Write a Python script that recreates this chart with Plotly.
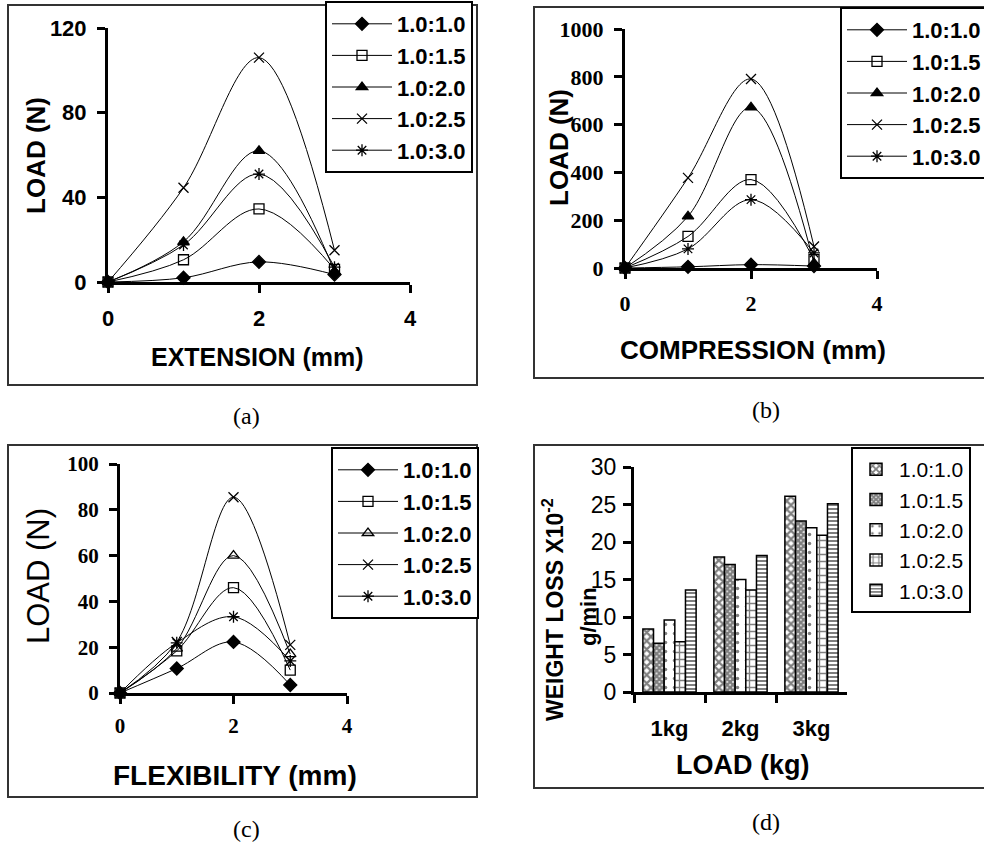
import plotly.graph_objects as go

W, H = 984, 846

ratios = ["1.0:1.0", "1.0:1.5", "1.0:2.0", "1.0:2.5", "1.0:3.0"]
x_mm = [0, 1, 2, 3]

# (a) extension loads (N) per ratio
ext_loads = [
    [0, 2, 9.5, 3.5],
    [0, 10.5, 34.5, 6],
    [0, 19, 62, 5],
    [0, 44.5, 106, 15],
    [0, 17.5, 51, 7],
]
# (b) compression loads (N)
comp_loads = [
    [0, 5, 14, 8],
    [0, 132, 370, 35],
    [0, 216, 672, 20],
    [0, 377, 791, 90],
    [0, 80, 286, 63],
]
# (c) flexibility loads (N)
flex_loads = [
    [0, 10.7, 22.3, 3.5],
    [0, 18.4, 46, 10],
    [0, 19.4, 60, 17],
    [0, 22.3, 85.5, 21],
    [0, 21.9, 33.3, 14],
]
# (d) weight loss x10^-2 g/min
load_cats = ["1kg", "2kg", "3kg"]
wear_loss = [
    [8.4, 18, 26.1],
    [6.5, 17, 22.8],
    [9.6, 15, 21.9],
    [6.7, 13.6, 20.9],
    [13.6, 18.2, 25.1],
]

sym_ab = ["diamond", "square-open", "triangle-up", "x-thin-open", "asterisk-open"]
sym_c = ["diamond", "square-open", "triangle-up-open", "x-thin-open", "asterisk-open"]
patterns = [
    dict(shape="x", size=6, solidity=0.6),
    dict(shape="x", size=4, solidity=0.85),
    dict(shape=".", size=9, solidity=0.12),
    dict(shape="+", size=7, solidity=0.35),
    dict(shape="-", size=4, solidity=0.5),
]

SANS = "Liberation Sans, Arial, sans-serif"
SERIF = "Liberation Serif, Times New Roman, serif"


def px(x0, x1):
    return [x0 / W, x1 / W]


def py(ytop, ybot):
    return [1 - ybot / H, 1 - ytop / H]


fig = go.Figure()


def add_lines(data, symbols, xa, ya, leg):
    for name, vals, sym in zip(ratios, data, symbols):
        fig.add_trace(go.Scatter(
            x=x_mm, y=vals, name=name, mode="lines+markers",
            line=dict(color="black", width=1, shape="spline"),
            marker=dict(symbol=sym, size=10, color="black",
                        line=dict(color="black", width=1.3)),
            xaxis=xa, yaxis=ya, legend=leg, cliponaxis=False,
        ))


add_lines(ext_loads, sym_ab, "x", "y", "legend")
add_lines(comp_loads, sym_ab, "x2", "y2", "legend2")
add_lines(flex_loads, sym_c, "x3", "y3", "legend3")

for name, vals, pat in zip(ratios, wear_loss, patterns):
    fig.add_trace(go.Bar(
        x=load_cats, y=vals, name=name,
        marker=dict(color="white", line=dict(color="black", width=1.5),
                    pattern=dict(fgcolor="black", bgcolor="white", fillmode="overlay", **pat)),
        xaxis="x4", yaxis="y4", legend="legend4",
    ))

axis_common = dict(showline=True, linecolor="black", linewidth=3, ticks="outside",
                   ticklen=8, tickwidth=3, tickcolor="black", showgrid=False,
                   zeroline=False, mirror=False)


def xax(dom, anchor, font, standoff, **kw):
    d = dict(axis_common)
    d.update(domain=dom, anchor=anchor, tickfont=font, ticklabelstandoff=standoff)
    d.update(kw)
    return d


fa = dict(family=SANS, size=22, color="black", weight="bold")
fb = dict(family=SERIF, size=22, color="black", weight="bold")
fc = dict(family=SERIF, size=21, color="black", weight="bold")
fd = dict(family=SANS, size=23, color="black")
fdx = dict(family=SANS, size=22, color="black", weight="bold")

fig.update_layout(
    width=W, height=H,
    margin=dict(l=0, r=0, t=0, b=0, autoexpand=False),
    paper_bgcolor="white", plot_bgcolor="white",
    showlegend=True,
    barmode="group", bargap=0.25, bargroupgap=0,
    xaxis=xax(px(108, 410), "y", fa, 7, range=[0, 4], dtick=2),
    yaxis=xax(py(28, 282), "x", fa, 6, range=[0, 120], dtick=40),
    xaxis2=xax(px(625, 877), "y2", fb, 6, range=[0, 4], dtick=2),
    yaxis2=xax(py(29, 268), "x2", fb, 6, range=[0, 1000], dtick=200),
    xaxis3=xax(px(120, 347), "y3", fc, 4, range=[0, 4], dtick=2),
    yaxis3=xax(py(464, 693), "x3", fc, 6, range=[0, 100], dtick=20),
    xaxis4=xax(px(634, 847), "y4", fdx, 15, type="category", range=[-0.5, 2.5],
               tickson="boundaries"),
    yaxis4=xax(py(467, 692), "x4", fd, 2, range=[0, 30], dtick=5),
)

leg_common = dict(bgcolor="white", bordercolor="black", borderwidth=2,
                  xanchor="left", yanchor="top", itemwidth=60, tracegroupgap=0,
                  itemclick=False)
fig.update_layout(
    legend=dict(leg_common, x=325 / W, y=1 - 1 / H,
                font=dict(family=SANS, size=22, color="black", weight="bold")),
    legend2=dict(leg_common, x=840 / W, y=1 - 7 / H,
                 font=dict(family=SANS, size=22, color="black", weight="bold")),
    legend3=dict(leg_common, x=331 / W, y=1 - 447 / H,
                 font=dict(family=SANS, size=22, color="black", weight="bold")),
    legend4=dict(leg_common, x=851 / W, y=1 - 447 / H, itemwidth=36,
                 font=dict(family=SANS, size=21, color="black")),
)

# panel frames
frames = [(8, 5, 477, 385), (534, 7, 995, 378), (8, 445, 477, 797), (534, 445, 995, 788)]
for x0, y0, x1, y1 in frames:
    fig.add_shape(type="rect", xref="paper", yref="paper",
                  x0=x0 / W, x1=x1 / W, y0=1 - y0 / H, y1=1 - y1 / H,
                  line=dict(color="#333", width=2), layer="below")


def ann(text, x, y, font, angle=0):
    fig.add_annotation(text=text, x=x / W, y=1 - y / H, xref="paper", yref="paper",
                       showarrow=False, font=font, textangle=angle,
                       xanchor="center", yanchor="middle")


tb = dict(family=SANS, size=25, color="black", weight="bold")
ann("EXTENSION (mm)", 257, 357, tb)
ann("LOAD (N)", 36, 156, dict(family=SANS, size=26, color="black", weight="bold"), -90)
ann("COMPRESSION (mm)", 753, 350, dict(family=SANS, size=26, color="black", weight="bold"))
ann("LOAD (N)", 559, 148, dict(family=SANS, size=26, color="black", weight="bold"), -90)
ann("FLEXIBILITY (mm)", 235, 775, dict(family=SANS, size=28, color="black", weight="bold"))
ann("LOAD (N)", 38, 576, dict(family=SANS, size=31, color="black"), -90)
ann("WEIGHT LOSS X10<sup>-2</sup>", 553, 610, dict(family=SANS, size=23, color="black", weight="bold"), -90)
ann("g/min", 588, 617, dict(family=SANS, size=22, color="black", weight="bold"), -90)
ann("LOAD (kg)", 742, 765, dict(family=SANS, size=27, color="black", weight="bold"))

cap = dict(family=SERIF, size=24, color="black")
ann("(a)", 246, 416, cap)
ann("(b)", 766, 410, cap)
ann("(c)", 246, 829, cap)
ann("(d)", 766, 822, cap)

fig.write_html("out.html", config={"displayModeBar": False},
               post_script="document.body.style.margin='0';document.body.style.overflow='hidden';")
